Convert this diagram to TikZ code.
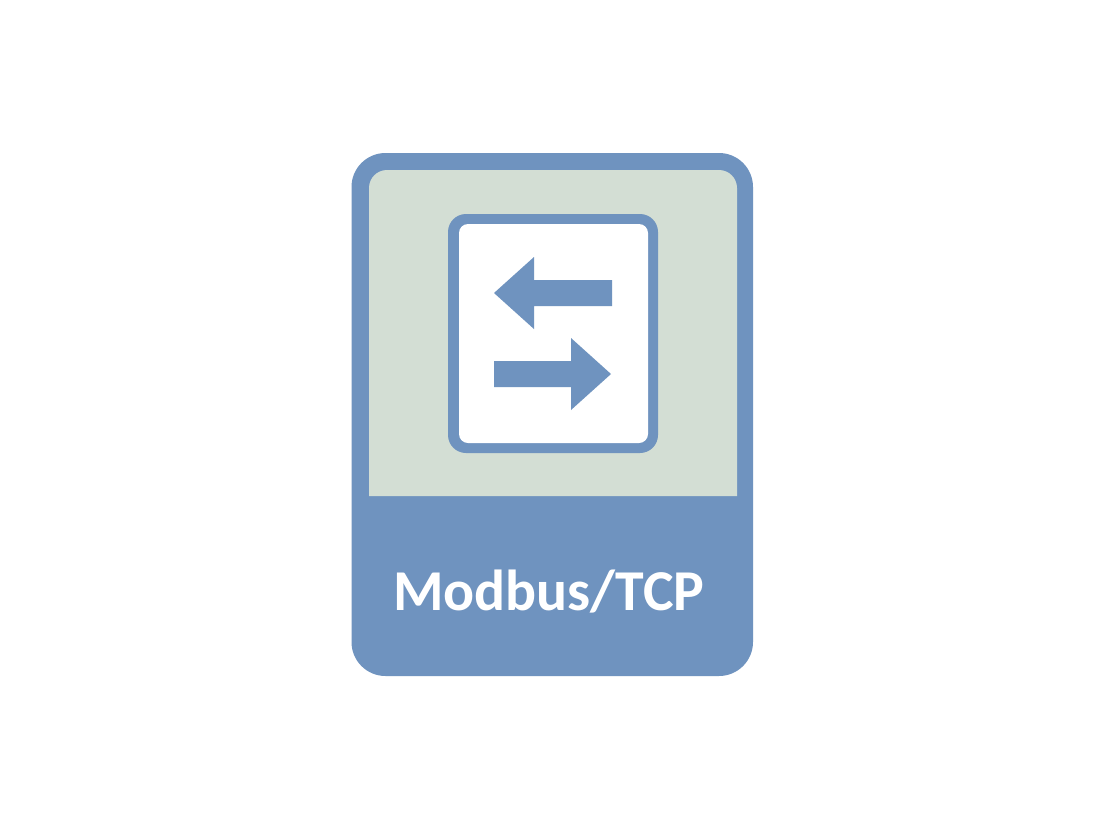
\documentclass[tikz,border=0pt]{standalone}
\usepackage{fontspec}
\setmainfont{Carlito}
\definecolor{cardblue}{HTML}{6F93BF}
\definecolor{panelgreen}{HTML}{D3DED4}
\tikzset{
  x=1pt,y=-1pt,
  bluefill/.style={fill=cardblue,draw=none},
  label text/.style={text=white,inner sep=0pt,anchor=base west,font=\fontsize{57.8}{59}\selectfont\bfseries}
}
\begin{document}
\begin{tikzpicture}
\useasboundingbox (0,0) rectangle (1104,828);
\fill[white] (0,0) rectangle (1104,828);
% card
\fill[bluefill,rounded corners=34pt] (351.5,153) rectangle (753,676);
% green panel
\fill[panelgreen] (369,496) -- (369,188) arc[start angle=180,end angle=90,x radius=18,y radius=-18] -- (719,170) arc[start angle=90,end angle=0,x radius=18,y radius=-18] -- (737,496) -- cycle;
% white framed box
\fill[bluefill,rounded corners=18pt] (448,214) rectangle (658,453);
\fill[white,rounded corners=9pt] (459,224) rectangle (648,443);
% arrows
\fill[bluefill] (494,293) -- (534,257) -- (534,280) -- (612,280) -- (612,306) -- (534,306) -- (534,329) -- cycle;
\fill[bluefill] (611,374) -- (571,338) -- (571,361) -- (494,361) -- (494,387) -- (571,387) -- (571,410) -- cycle;
\node[label text] (title) at (393,610) {Modbus/TCP};
\end{tikzpicture}
\end{document}
